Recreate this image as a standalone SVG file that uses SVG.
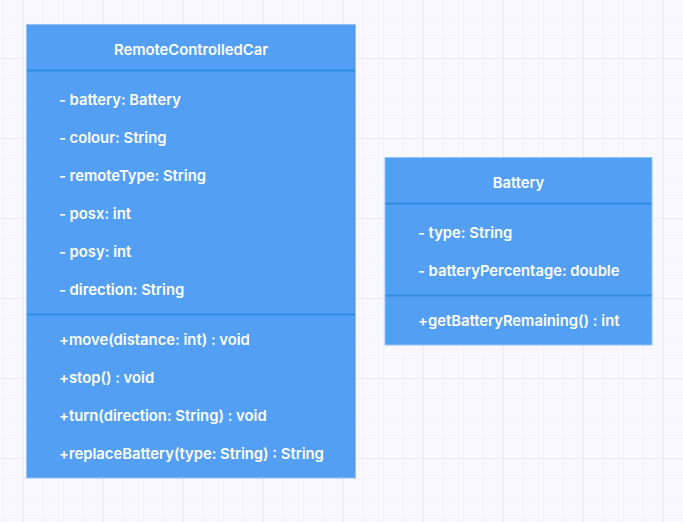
<svg xmlns="http://www.w3.org/2000/svg" width="683" height="522" viewBox="0 0 683 522">
<defs>
<pattern id="minor" x="3" y="18" width="20" height="20" patternUnits="userSpaceOnUse">
<path d="M0 0H20M0 0V20" fill="none" stroke="#ededfb" stroke-width="1"/>
</pattern>
<pattern id="major" x="23" y="58" width="80" height="80" patternUnits="userSpaceOnUse">
<path d="M0 0H80M0 0V80" fill="none" stroke="#eaeafb" stroke-width="2"/>
</pattern>
</defs>
<style>
.box{fill:#529ff3;stroke:#93c3f6;stroke-width:1}
.div{stroke:#2f8ce0;stroke-width:2}
text{font-family:Inter,"Liberation Sans",sans-serif;font-size:14.8px;font-weight:600;fill:#ffffff}
.title{text-anchor:middle}
</style>
<rect width="683" height="522" fill="#f8f8fe"/>
<rect width="683" height="522" fill="url(#minor)"/>
<rect width="683" height="522" fill="url(#major)"/>
<g id="RemoteControlledCar">
<rect class="box" x="26.5" y="24.5" width="329" height="453.5"/>
<line class="div" x1="27" y1="70.5" x2="355" y2="70.5"/>
<line class="div" x1="27" y1="314.5" x2="355" y2="314.5"/>
<text class="title" x="191" y="55">RemoteControlledCar</text>
<text x="59" y="105">- battery: Battery</text>
<text x="59" y="143">- colour: String</text>
<text x="59" y="181">- remoteType: String</text>
<text x="59" y="219">- posx: int</text>
<text x="59" y="257">- posy: int</text>
<text x="59" y="295">- direction: String</text>
<text x="59" y="345">+move(distance: int) : void</text>
<text x="59" y="383">+stop() : void</text>
<text x="59" y="421">+turn(direction: String) : void</text>
<text x="59" y="459">+replaceBattery(type: String) : String</text>
</g>
<g id="Battery">
<rect class="box" x="385" y="157.5" width="267" height="187.5"/>
<line class="div" x1="385.5" y1="203.5" x2="651.5" y2="203.5"/>
<line class="div" x1="385.5" y1="295.5" x2="651.5" y2="295.5"/>
<text class="title" x="518.5" y="188">Battery</text>
<text x="418" y="238">- type: String</text>
<text x="418" y="276">- batteryPercentage: double</text>
<text x="418" y="326">+getBatteryRemaining() : int</text>
</g>
<g id="connectors"></g>
</svg>
